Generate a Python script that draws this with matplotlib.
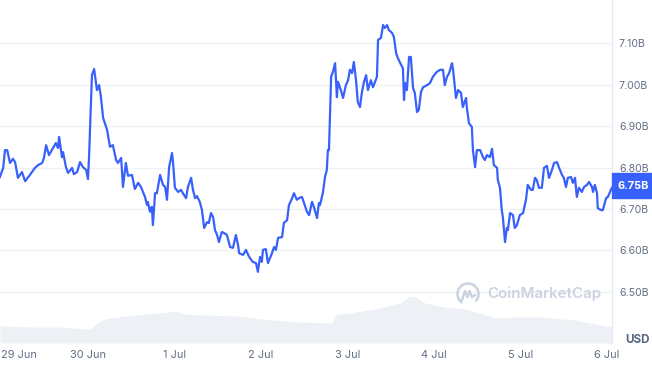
import matplotlib
matplotlib.use("Agg")
import matplotlib.pyplot as plt
from matplotlib.patches import Rectangle, Arc
from matplotlib.lines import Line2D

# ---- data (hours since 29 Jun 00:00) ----
hours = [-0.3, 0.6, 1.1, 1.7, 2.5, 3.3, 3.9, 4.7, 5.8, 6.7, 8.0, 9.4, 10.3, 11.4, 11.9, 12.5, 13.3, 14.4,
         15.2, 15.8, 16.1, 16.9, 17.2, 18.0, 18.6, 19.7, 20.2, 21.1, 21.9, 22.7, 23.6, 24.1, 24.4, 25.2,
         25.8, 26.6, 27.2, 27.7, 28.3, 29.4, 30.2, 31.0, 31.9, 32.4, 33.3, 33.8, 34.6, 35.2, 36.3, 37.1,
         38.0, 38.8, 39.9, 40.5, 40.7, 41.3, 41.8, 42.1, 42.7, 43.2, 44.1, 44.9, 45.5, 46.0, 46.6, 47.4,
         47.7, 48.2, 49.1, 49.9, 50.4, 51.3, 51.8, 52.7, 53.2, 53.8, 54.3, 55.1, 55.7, 56.3, 57.1, 57.6,
         58.2, 58.8, 59.3, 59.9, 60.4, 61.2, 61.8, 62.6, 63.5, 64.3, 65.1, 65.7, 66.0, 67.1, 67.9, 68.5,
         69.0, 69.8, 70.7, 71.2, 71.8, 72.3, 72.6, 73.4, 74.0, 75.1, 75.7, 76.2, 76.8, 77.9, 78.4, 79.3,
         79.8, 80.6, 81.2, 82.0, 82.6, 83.4, 84.0, 84.8, 85.4, 86.2, 86.7, 87.6, 88.1, 88.4, 89.2, 89.8,
         90.3, 90.6, 90.9, 91.5, 92.0, 92.6, 93.1, 93.4, 94.2, 94.8, 95.6, 96.2, 96.7, 97.3, 97.8, 98.4,
         98.9, 99.5, 100.0, 100.6, 101.2, 101.7, 102.5, 103.1, 104.2, 104.5, 105.3, 105.9, 106.4, 107.0,
         107.5, 108.4, 108.9, 109.5, 110.0, 110.9, 111.4, 111.7, 112.0, 112.5, 113.1, 113.6, 114.2, 114.7,
         115.3, 115.8, 116.4, 117.0, 118.1, 118.9, 119.7, 120.8, 121.7, 122.5, 123.0, 123.6, 124.2, 125.0,
         125.3, 126.1, 126.7, 127.5, 128.0, 128.9, 129.1, 129.7, 130.5, 130.8, 131.4, 131.9, 132.8, 133.6,
         134.1, 134.7, 135.5, 136.1, 136.6, 137.5, 137.7, 138.3, 138.8, 139.1, 139.7, 140.2, 140.5, 141.1,
         141.9, 142.4, 143.0, 143.8, 144.7, 145.5, 146.0, 146.9, 147.4, 148.0, 148.5, 149.1, 149.9, 150.5,
         151.3, 151.9, 152.7, 153.3, 154.1, 154.6, 155.5, 156.0, 156.6, 157.1, 158.0, 158.5, 159.1, 159.6,
         160.2, 161.0, 161.6, 162.4, 163.0, 163.8, 164.1, 164.6, 165.2, 165.4, 166.3, 166.8, 167.7, 168.2,
         168.8, 169.3]
price = [6.777, 6.799, 6.842, 6.842, 6.811, 6.821, 6.813, 6.775, 6.789, 6.767, 6.782, 6.799, 6.806, 6.811,
         6.823, 6.854, 6.830, 6.847, 6.859, 6.847, 6.874, 6.825, 6.837, 6.801, 6.787, 6.799, 6.784, 6.789,
         6.813, 6.801, 6.794, 6.772, 6.825, 7.023, 7.038, 6.987, 6.999, 6.970, 6.920, 6.891, 6.850, 6.854,
         6.818, 6.811, 6.823, 6.753, 6.811, 6.780, 6.782, 6.748, 6.763, 6.753, 6.729, 6.709, 6.717, 6.693,
         6.705, 6.661, 6.738, 6.738, 6.782, 6.758, 6.753, 6.722, 6.801, 6.835, 6.811, 6.751, 6.741, 6.746,
         6.738, 6.726, 6.753, 6.775, 6.746, 6.726, 6.731, 6.717, 6.697, 6.654, 6.668, 6.666, 6.690, 6.680,
         6.649, 6.637, 6.620, 6.644, 6.642, 6.637, 6.608, 6.606, 6.637, 6.613, 6.593, 6.589, 6.601, 6.589,
         6.581, 6.572, 6.569, 6.548, 6.584, 6.572, 6.601, 6.603, 6.569, 6.593, 6.608, 6.601, 6.630, 6.632,
         6.666, 6.673, 6.709, 6.724, 6.738, 6.722, 6.726, 6.729, 6.714, 6.693, 6.685, 6.717, 6.705, 6.678,
         6.714, 6.709, 6.738, 6.777, 6.794, 6.842, 6.842, 7.019, 7.031, 7.052, 6.970, 7.007, 6.987, 6.968,
         6.999, 7.011, 7.036, 7.028, 7.055, 7.011, 6.958, 6.946, 6.980, 7.007, 7.023, 6.987, 7.011, 6.994,
         7.019, 7.108, 7.113, 7.144, 7.137, 7.144, 7.132, 7.125, 7.115, 7.077, 7.064, 7.048, 7.040, 6.963,
         7.004, 6.987, 7.067, 7.067, 6.992, 6.980, 6.934, 6.939, 6.982, 6.994, 6.999, 7.004, 7.019, 7.031,
         7.036, 7.036, 6.999, 7.019, 7.028, 7.052, 7.036, 6.968, 6.987, 6.980, 6.946, 6.968, 6.946, 6.907,
         6.898, 6.842, 6.801, 6.842, 6.842, 6.825, 6.818, 6.830, 6.825, 6.845, 6.806, 6.799, 6.770, 6.751,
         6.697, 6.680, 6.620, 6.654, 6.649, 6.690, 6.685, 6.654, 6.661, 6.685, 6.690, 6.722, 6.758, 6.746,
         6.746, 6.775, 6.770, 6.751, 6.751, 6.799, 6.804, 6.775, 6.794, 6.811, 6.813, 6.801, 6.782, 6.775,
         6.753, 6.775, 6.777, 6.763, 6.775, 6.729, 6.751, 6.741, 6.753, 6.758, 6.765, 6.753, 6.741, 6.758,
         6.738, 6.702, 6.697, 6.697, 6.726, 6.729, 6.741, 6.751]

vol_hours = [-0.3, 8.0, 16.4, 23.3, 24.7, 26.6, 28.8, 34.4, 39.9, 44.1, 48.2, 51.0, 55.1, 66.2, 71.8, 82.9,
             91.2, 91.7, 93.1, 96.7, 105.0, 110.6, 113.3, 114.7, 117.5, 123.0, 128.6, 132.8, 136.9, 142.4,
             149.4, 159.1, 163.2, 169.3]
volume = [0.34, 0.32, 0.32, 0.28, 0.28, 0.40, 0.48, 0.54, 0.58, 0.60, 0.64, 0.58, 0.56, 0.54, 0.48, 0.42,
          0.40, 0.40, 0.58, 0.60, 0.70, 0.80, 0.94, 0.92, 0.80, 0.72, 0.68, 0.60, 0.50, 0.52, 0.52, 0.46,
          0.40, 0.32]

tick_hours = [0, 24, 48, 72, 96, 120, 144, 168]
tick_labels = ["29 Jun", "30 Jun", "1 Jul", "2 Jul", "3 Jul", "4 Jul", "5 Jul", "6 Jul"]
y_ticks = [6.5, 6.6, 6.7, 6.8, 6.9, 7.0, 7.1]
y_labels = ["6.50B", "6.60B", "6.70B", "6.80B", "6.90B", "7.00B", "7.10B"]
current_label = "6.75B"

# ---- style ----
LINE = "#3861fb"
TXT = "#636f86"
GRID = "#eff2f5"
plt.rcParams['font.family'] = ['Inter', 'DejaVu Sans']

W, H = 652, 366
fig = plt.figure(figsize=(W / 100, H / 100), dpi=100)
ax = fig.add_axes([0, 23 / H, 612 / W, 343 / H])
axv = ax.twinx()
axv.set_zorder(0)
ax.set_zorder(1)
ax.patch.set_visible(False)

# volume
axv.fill_between(vol_hours, volume, 0, color="#edf0f5", lw=0)
axv.set_ylim(0, 6.86)
axv.set_yticks([])
for s in axv.spines.values():
    s.set_visible(False)

# price
ax.plot(hours, price, color=LINE, lw=1.6, solid_joinstyle='round', zorder=3)
ax.set_xlim(-0.28, 169.35)
ax.set_ylim(6.3761, 7.2046)
ax.set_yticks(y_ticks)
ax.set_yticklabels(y_labels)
ax.yaxis.tick_right()
ax.tick_params(axis='y', length=0, pad=5, labelsize=7.6, labelcolor=TXT)
ax.set_xticks(tick_hours)
ax.set_xticklabels(tick_labels)
ax.tick_params(axis='x', length=0, pad=5, labelsize=7.9, labelcolor=TXT)
ax.get_xticklabels()[0].set_ha('left')
ax.get_xticklabels()[0].set_x(-0.28)
ax.grid(axis='y', color=GRID, lw=1)
ax.grid(axis='x', visible=False)
for k, s in ax.spines.items():
    s.set_visible(False)
ax.spines['right'].set_visible(True)
ax.spines['right'].set_color("#e3e7ee")
ax.spines['right'].set_linewidth(0.8)

# USD label
fig.text(650 / W, 1 - 340 / H, "USD", ha='right', va='center', fontsize=8.4,
         fontweight='bold', color="#58667e")

# current price box
fig.canvas.draw()
_, ypx = ax.transData.transform((0, price[-1]))
bh = 25
fig.patches.append(Rectangle((612 / W, (ypx + 2 - bh / 2) / H), 40 / W, bh / H,
                             transform=fig.transFigure, color=LINE, zorder=5))
fig.text(617 / W, (ypx + 2) / H, current_label, ha='left', va='center', fontsize=7.9,
         fontweight='bold', color='white', zorder=6)

# watermark
WM = "#cbd3e0"
cx, cy, r = 468, 366 - 294, 10.5
fig.patches.append(Arc((cx / W, cy / H), 2 * r / W, 2 * r / H, theta1=-60, theta2=250,
                       transform=fig.transFigure, color=WM, lw=1.8))
mx = [cx - 6, cx - 3, cx - 0.5, cx + 1.5, cx + 4, cx + 7]
my = [cy - 6, cy + 3, cy - 3, cy + 3, cy - 3, cy - 1]
fig.lines.append(Line2D([x / W for x in mx], [y / H for y in my], transform=fig.transFigure,
                        color=WM, lw=1.8, solid_joinstyle='round', solid_capstyle='round'))
fig.text(487 / W, cy / H, "CoinMarketCap", ha='left', va='center', fontsize=10.9,
         fontweight='semibold', color=WM)

fig.savefig("out.png", dpi=100)
